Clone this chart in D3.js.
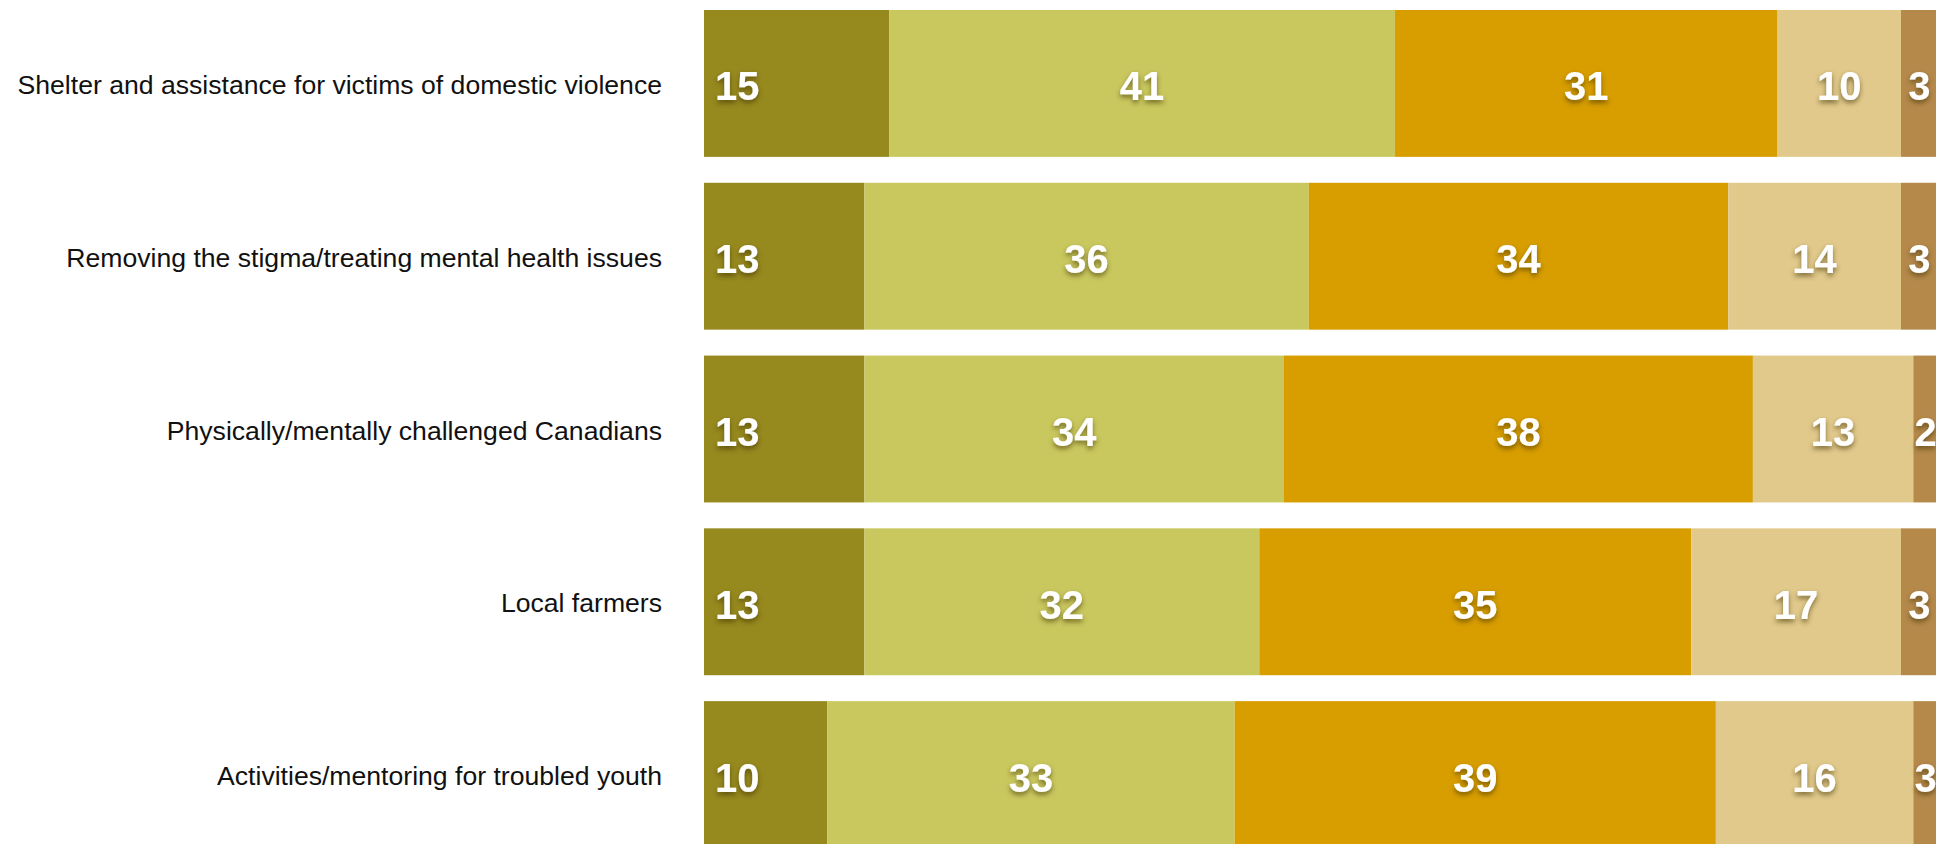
<!DOCTYPE html>
<html>
<head>
<meta charset="utf-8">
<script src="https://cdn.jsdelivr.net/npm/d3@7"></script>
<style>
  html, body { margin: 0; padding: 0; background: #ffffff; overflow: hidden; }
  svg { display: block; }
</style>
</head>
<body>
<svg id="chart" width="1936" height="844"></svg>
<script>
// Causes, top to bottom
const categories = [
  "Shelter and assistance for victims of domestic violence",
  "Removing the stigma/treating mental health issues",
  "Physically/mentally challenged Canadians",
  "Local farmers",
  "Activities/mentoring for troubled youth"
];

// Response shares (%), one array per segment, left to right
const segment1 = [15, 13, 13, 13, 10];
const segment2 = [41, 36, 34, 32, 33];
const segment3 = [31, 34, 38, 35, 39];
const segment4 = [10, 14, 13, 17, 16];
const segment5 = [3, 3, 2, 3, 3];

const segmentColors = ["#96891e", "#c9c85e", "#d89e00", "#e0c98a", "#b5894a"];

const seriesList = [segment1, segment2, segment3, segment4, segment5];
const keys = seriesList.map((_, i) => "s" + i);
const rows = categories.map((c, r) => {
  const row = { category: c };
  seriesList.forEach((arr, i) => { row[keys[i]] = arr[r]; });
  return row;
});

const svg = d3.select("#chart");

const x = d3.scaleLinear().domain([0, 100]).range([704, 1938]);
const y = d3.scaleBand()
  .domain(categories)
  .range([10, 848])
  .paddingInner(0.15)
  .paddingOuter(0);

const color = d3.scaleOrdinal().domain(keys).range(segmentColors);

const stacked = d3.stack().keys(keys)(rows);

// Soft dark shadow under the value labels
const defs = svg.append("defs");
const f = defs.append("filter").attr("id", "labelShadow")
  .attr("x", "-30%").attr("y", "-30%").attr("width", "160%").attr("height", "170%");
f.append("feDropShadow")
  .attr("dx", 0).attr("dy", 3).attr("stdDeviation", 2.5)
  .attr("flood-color", "#3a2a00").attr("flood-opacity", 0.6);

// Segments
const layers = svg.append("g").selectAll("g")
  .data(stacked)
  .join("g")
  .attr("fill", d => color(d.key));

layers.selectAll("rect")
  .data(d => d.map(v => ({ v, key: d.key })))
  .join("rect")
  .attr("x", d => x(d.v[0]))
  .attr("y", d => y(d.v.data.category))
  .attr("width", d => x(d.v[1]) - x(d.v[0]))
  .attr("height", y.bandwidth());

// Value labels: first segment left-aligned, the rest centred on the
// part of the segment that lies within 0–100
const labels = svg.append("g")
  .attr("font-family", "'Liberation Sans', Arial, Helvetica, sans-serif")
  .attr("font-weight", "bold")
  .attr("font-size", 40)
  .attr("fill", "#ffffff")
  .attr("filter", "url(#labelShadow)");

stacked.forEach((layer, li) => {
  labels.selectAll(null)
    .data(layer)
    .join("text")
    .attr("x", d => li === 0
      ? x(d[0]) + 11
      : (x(d[0]) + x(Math.min(d[1], 100))) / 2)
    .attr("y", d => y(d.data.category) + y.bandwidth() / 2 + 17)
    .attr("text-anchor", li === 0 ? "start" : "middle")
    .text(d => d.data[layer.key]);
});

// Category labels
svg.append("g")
  .attr("font-family", "'Liberation Sans', Arial, Helvetica, sans-serif")
  .attr("font-size", 26.6)
  .attr("fill", "#111111")
  .selectAll("text")
  .data(categories)
  .join("text")
  .attr("x", x(0) - 42)
  .attr("y", d => y(d) + y.bandwidth() / 2 + 10.5)
  .attr("text-anchor", "end")
  .text(d => d);
</script>
</body>
</html>
